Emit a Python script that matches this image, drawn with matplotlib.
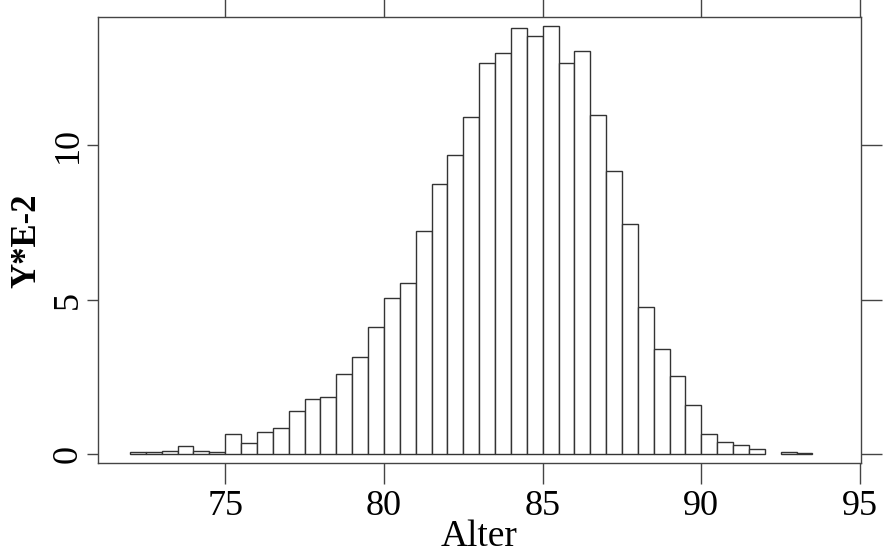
import numpy as np
import matplotlib
matplotlib.use("Agg")
import matplotlib.pyplot as plt

plt.rcParams['font.family'] = ['Liberation Serif', 'DejaVu Serif']

# Histogramm: linke Klassengrenzen (Breite 0.5) und Hoehen (Y*E-2)
bin_left = np.arange(72.0, 93.5, 0.5)
heights = [0.06, 0.06, 0.12, 0.26, 0.12, 0.06, 0.66, 0.37, 0.71, 0.84,
           1.39, 1.79, 1.84, 2.59, 3.14, 4.11, 5.07, 5.55, 7.23, 8.75,
           9.69, 10.93, 12.66, 12.98, 13.80, 13.54, 13.85, 12.66, 13.05, 10.97,
           9.18, 7.44, 4.76, 3.40, 2.52, 1.60, 0.65, 0.40, 0.31, 0.18,
           0.0, 0.06, 0.04]
bin_width = 0.5

x_ticks = [75, 80, 85, 90, 95]
y_ticks = [0, 5, 10]

heights = np.array(heights)
keep = heights > 0

fig = plt.figure(figsize=(8.83, 5.58), dpi=100)
ax = fig.add_axes([0.1113, 0.1697, 0.8634, 0.7993])

ax.bar(bin_left[keep], heights[keep], width=bin_width, align='edge',
       color='white', edgecolor='#333333', linewidth=1.0)

ax.set_xlim(71.0, 95.02)
ax.set_ylim(-0.29, 14.14)

for s in ax.spines.values():
    s.set_color('#444444')
    s.set_linewidth(1.0)

ax.set_xticks(x_ticks)
ax.set_yticks(y_ticks)
ax.tick_params(axis='x', direction='out', length=15, width=1, color='#444444',
               top=True, labeltop=False, labelsize=26, pad=4)
ax.tick_params(axis='y', direction='out', length=8, width=1, color='#444444',
               right=True, labelright=False, labelsize=26, pad=2)
for t in ax.yaxis.get_major_ticks():
    t.tick2line.set_markersize(15)
for lbl in ax.get_yticklabels():
    lbl.set_rotation(90)
    lbl.set_va('center')

ax.set_xlabel('Alter', fontsize=27, labelpad=-2)
ax.set_ylabel('Y*E-2', fontsize=25, fontweight='bold', labelpad=6)

fig.savefig('out.png', dpi=100)
